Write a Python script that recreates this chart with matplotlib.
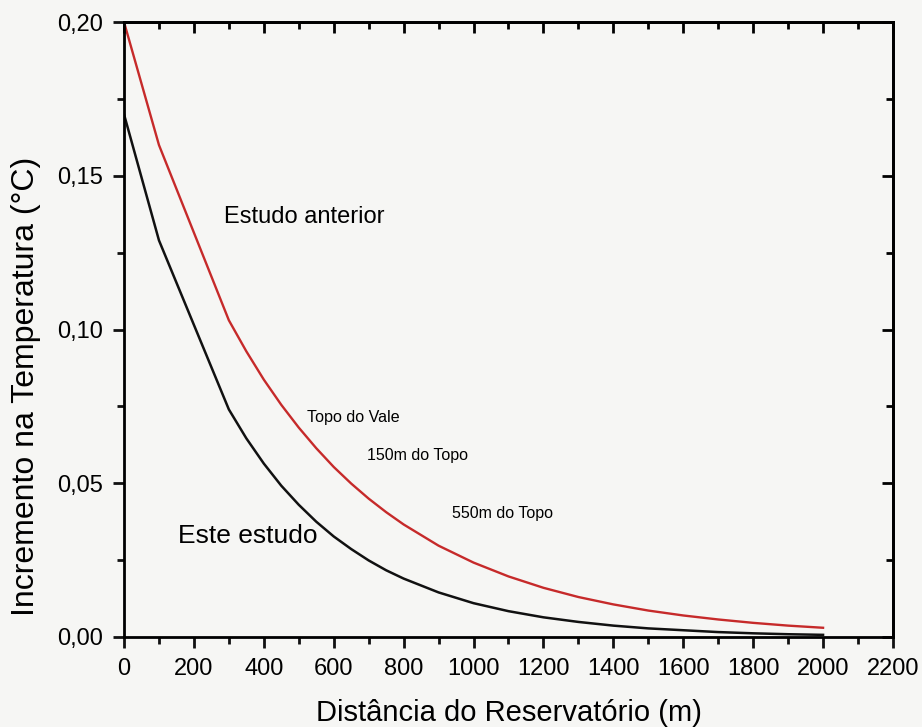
import numpy as np
import matplotlib.pyplot as plt
from matplotlib.ticker import MultipleLocator

plt.rcParams['font.family'] = ['Liberation Sans', 'DejaVu Sans']

# Dados
dist = [0, 100, 300, 350, 400, 450, 500, 550, 600, 650, 700, 750, 800, 900,
        1000, 1100, 1200, 1300, 1400, 1500, 1600, 1700, 1800, 1900, 2000]
anterior = [0.200, 0.160, 0.103, 0.0929, 0.0837, 0.0755, 0.0681, 0.0614,
            0.0553, 0.0499, 0.0450, 0.0406, 0.0366, 0.0297, 0.0242, 0.0197,
            0.0160, 0.0130, 0.0106, 0.0086, 0.0070, 0.0057, 0.0046, 0.0037,
            0.0030]
este = [0.170, 0.129, 0.074, 0.0646, 0.0564, 0.0492, 0.0430, 0.0375,
        0.0327, 0.0286, 0.0249, 0.0217, 0.0190, 0.0145, 0.0110, 0.0084,
        0.0064, 0.0049, 0.0037, 0.0028, 0.0022, 0.0016, 0.0012, 0.0009,
        0.0007]

fig = plt.figure(figsize=(9.22, 7.27), dpi=100)
fig.patch.set_facecolor('#f6f6f4')
ax = fig.add_axes([0.1345, 0.1238, 0.834, 0.8459])
ax.set_facecolor('#f6f6f4')

ax.plot(dist, anterior, color='#c62a2a', lw=1.7)
ax.plot(dist, este, color='#111111', lw=1.8)

ax.set_xlim(0, 2200)
ax.set_ylim(0, 0.20)
ax.xaxis.set_major_locator(MultipleLocator(200))
ax.xaxis.set_minor_locator(MultipleLocator(100))
ax.yaxis.set_major_locator(MultipleLocator(0.05))
ax.yaxis.set_minor_locator(MultipleLocator(0.025))
ax.yaxis.set_major_formatter(lambda v, p: f'{v:.2f}'.replace('.', ','))

for s in ax.spines.values():
    s.set_linewidth(2)
ax.tick_params(which='both', width=2, labelsize=17, color='#111111',
               direction='out', pad=7)
ax.tick_params(which='major', length=8)
ax.tick_params(which='minor', length=5)
# ticks internos no topo e direita
ax2 = ax.secondary_xaxis('top')
ax2.xaxis.set_major_locator(MultipleLocator(200))
ax2.xaxis.set_minor_locator(MultipleLocator(100))
ax2.tick_params(which='both', direction='in', width=2, labeltop=False)
ax2.tick_params(which='major', length=8)
ax2.tick_params(which='minor', length=5)
ax2.spines['top'].set_linewidth(2)
ay2 = ax.secondary_yaxis('right')
ay2.yaxis.set_major_locator(MultipleLocator(0.05))
ay2.yaxis.set_minor_locator(MultipleLocator(0.025))
ay2.tick_params(which='both', direction='in', width=2, labelright=False)
ay2.tick_params(which='major', length=8)
ay2.tick_params(which='minor', length=5)
ay2.spines['right'].set_linewidth(2)

ax.set_xlabel('Distância do Reservatório (m)', fontsize=21, labelpad=14)
ax.set_ylabel('Incremento na Temperatura (°C)', fontsize=23)
ax.yaxis.set_label_coords(-0.108, 0.408)

ax.text(286, 0.1367, 'Estudo anterior', fontsize=17, ha='left', va='center')
ax.text(154, 0.0328, 'Este estudo', fontsize=19, ha='left', va='center')
ax.text(524, 0.0715, 'Topo do Vale', fontsize=11.6, ha='left', va='center')
ax.text(695, 0.0589, '150m do Topo', fontsize=11.5, ha='left', va='center')
ax.text(938, 0.0403, '550m do Topo', fontsize=11.5, ha='left', va='center')

fig.savefig('out.png', dpi=100, facecolor=fig.get_facecolor())
